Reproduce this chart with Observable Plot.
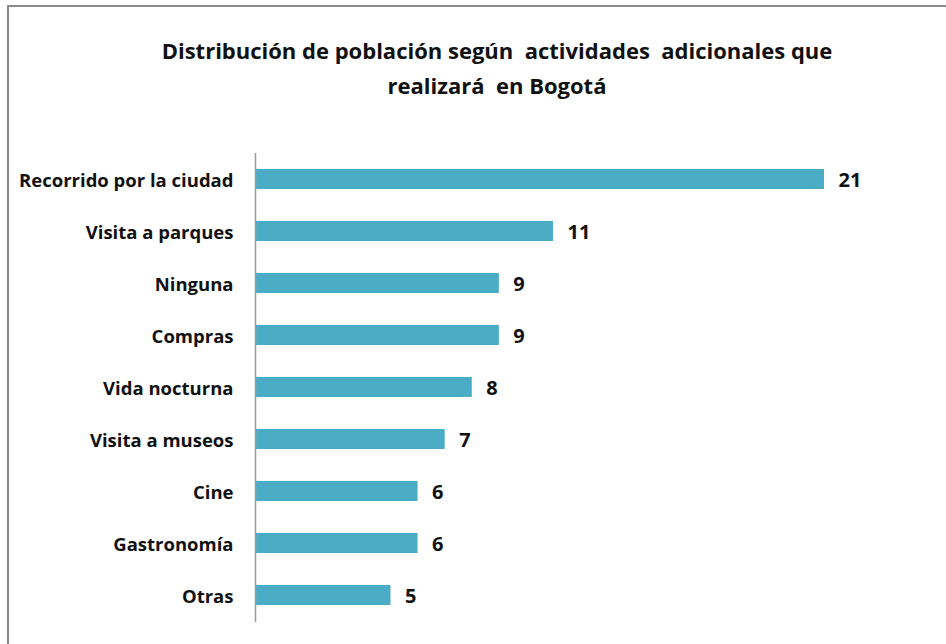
<!DOCTYPE html>
<html><head><meta charset="utf-8">
<script src="https://cdn.jsdelivr.net/npm/d3@7"></script>
<script src="https://cdn.jsdelivr.net/npm/@observablehq/plot@0.6"></script>
<style>
body{margin:0;background:#fff;font-family:"Open Sans",sans-serif;overflow:hidden;}
#frame{position:absolute;left:7px;top:5px;width:1000px;height:700px;border-left:2px solid #8a8a8a;border-top:2px solid #8a8a8a;}
#title{position:absolute;left:0;top:33px;width:994px;text-align:center;font-weight:bold;font-size:22px;line-height:35px;color:#111;white-space:pre;}
#chart{position:absolute;left:0;top:130px;}
</style></head><body>
<div id="frame"></div>
<div id="title"></div>
<div id="chart"></div>
<script>
const titleLines = ["Distribución de población según  actividades  adicionales que", "realizará  en Bogotá"];
const categories = ["Recorrido por la ciudad", "Visita a parques", "Ninguna", "Compras", "Vida nocturna", "Visita a museos", "Cine", "Gastronomía", "Otras"];
const values = [21, 11, 9, 9, 8, 7, 6, 6, 5];

document.getElementById("title").textContent = titleLines.join("\n");

const data = categories.map((c, i) => ({category: c, value: values[i]}));

const chart = Plot.plot({
  width: 946,
  height: 514,
  marginLeft: 255,
  marginRight: 122,
  marginTop: 23,
  marginBottom: 22,
  style: {fontFamily: "'Open Sans', sans-serif", fontSize: "18.5px", fontWeight: "bold", color: "#111", background: "transparent"},
  x: {domain: [0, 21], axis: null},
  y: {domain: categories, paddingInner: 0.615, paddingOuter: 0.3075},
  marks: [
    Plot.axisY({label: null, tickSize: 0, tickPadding: 22, dy: 1.5}),
    Plot.barX(data, {x: "value", y: "category", fill: "#4bacc6"}),
    Plot.ruleX([0], {stroke: "#9a9a9a", strokeWidth: 1.5}),
    Plot.text(data, {x: "value", y: "category", text: d => String(d.value), textAnchor: "start", dx: 14, dy: 1.5, fontSize: 20, fontWeight: "bold", fill: "#111"})
  ]
});
document.getElementById("chart").appendChild(chart);
</script>
</body></html>
